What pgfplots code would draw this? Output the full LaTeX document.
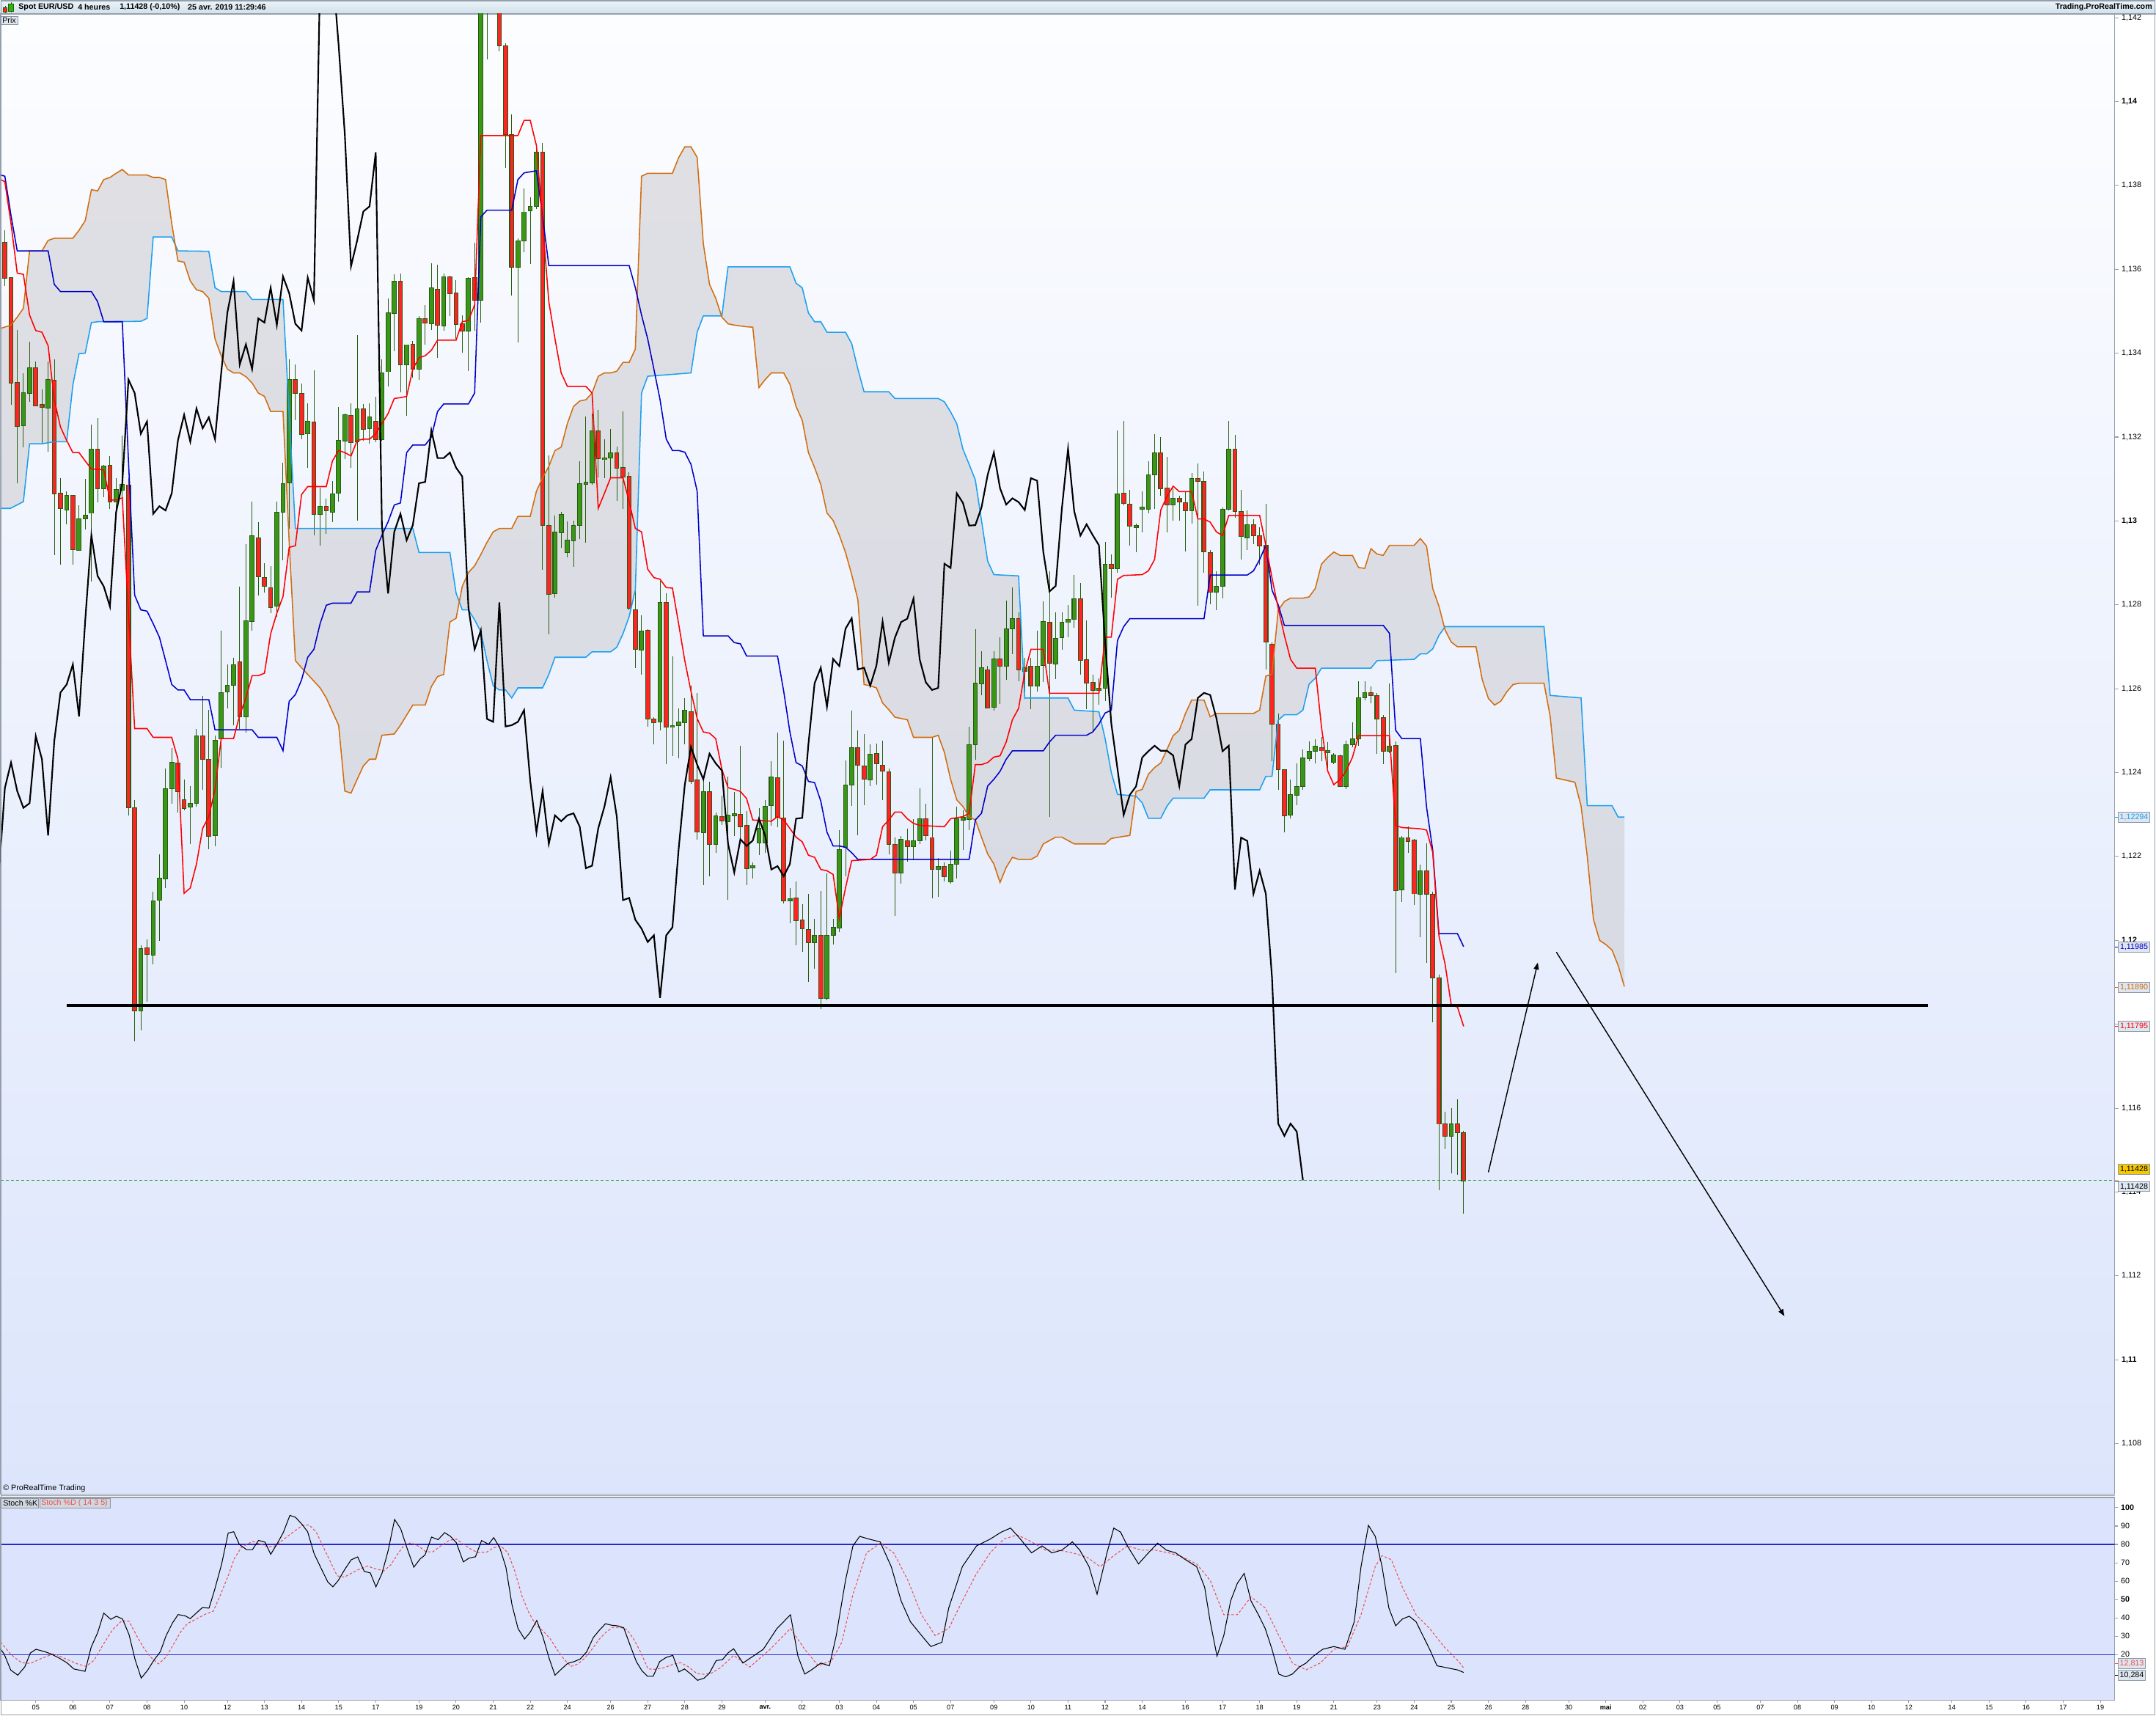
\documentclass[border=0pt]{standalone}
\usepackage{pgfplots}
\pgfplotsset{compat=1.18}
\usepackage{pgfplotstable}
\usetikzlibrary{arrows.meta}
\usepackage{fontspec}
\setmainfont{Liberation Sans}

\definecolor{cgreen}{RGB}{58,150,22}
\definecolor{cred}{RGB}{255,35,35}
\definecolor{cedge}{RGB}{40,90,15}
\definecolor{wick}{RGB}{40,95,15}
\definecolor{tenkan}{RGB}{255,0,0}
\definecolor{kijun}{RGB}{0,0,200}
\definecolor{spana}{RGB}{30,160,240}
\definecolor{spanb}{RGB}{210,110,15}
\definecolor{cloud}{RGB}{208,208,213}
\definecolor{axgray}{RGB}{150,160,172}
\definecolor{bgtop}{RGB}{252,253,255}
\definecolor{bgbot}{RGB}{220,229,251}
\definecolor{stochbg}{RGB}{219,228,252}
\definecolor{stochblue}{RGB}{40,40,200}
\definecolor{stochd}{RGB}{240,80,80}
\definecolor{lastgreen}{RGB}{30,160,50}
\definecolor{boxfill}{RGB}{222,230,240}
\definecolor{boxdraw}{RGB}{140,150,165}
\definecolor{hdrtop}{RGB}{236,244,249}
\definecolor{hdrbot}{RGB}{208,224,234}
\definecolor{ybox}{RGB}{245,200,0}

\newcommand{\fs}{\fontsize{3.05}{3.5}\selectfont}
\newcommand{\fd}{\fontsize{2.6}{3.0}\selectfont}

% EUR/USD 4h candles: bar index, open, high, low, close, up(1)/down(0)
\pgfplotstableread{
i o h l c u
0 1.13665 1.13693 1.13560 1.13580 0
1 1.13580 1.13580 1.13278 1.13329 0
2 1.13332 1.13455 1.13090 1.13227 0
3 1.13227 1.13353 1.13176 1.13305 1
4 1.13305 1.13429 1.13286 1.13365 1
5 1.13365 1.13381 1.13273 1.13276 0
6 1.13278 1.13316 1.13187 1.13271 0
7 1.13269 1.13381 1.13166 1.13337 1
8 1.13337 1.13386 1.12920 1.13066 0
9 1.13066 1.13103 1.12896 1.13030 0
10 1.13027 1.13071 1.12993 1.13061 1
11 1.13061 1.13061 1.12896 1.12932 0
12 1.12930 1.13038 1.12930 1.13004 1
13 1.13006 1.13101 1.12982 1.13014 1
14 1.13019 1.13232 1.12857 1.13172 1
15 1.13172 1.13247 1.13045 1.13077 0
16 1.13079 1.13135 1.13058 1.13132 1
17 1.13132 1.13156 1.13030 1.13046 0
18 1.13046 1.13103 1.13030 1.13074 1
19 1.13074 1.13203 1.13055 1.13087 1
20 1.13087 1.13103 1.12298 1.12317 0
21 1.12317 1.12335 1.11761 1.11834 0
22 1.11834 1.11988 1.11786 1.11981 1
23 1.11981 1.12004 1.11854 1.11967 0
24 1.11967 1.12117 1.11944 1.12096 1
25 1.12096 1.12206 1.11999 1.12148 1
26 1.12148 1.12411 1.12125 1.12363 1
27 1.12363 1.12460 1.12327 1.12424 1
28 1.12424 1.12440 1.12306 1.12356 0
29 1.12335 1.12384 1.12311 1.12316 0
30 1.12319 1.12368 1.12230 1.12327 1
31 1.12327 1.12505 1.12319 1.12487 1
32 1.12487 1.12584 1.12360 1.12432 0
33 1.12432 1.12550 1.12217 1.12250 0
34 1.12250 1.12489 1.12225 1.12476 1
35 1.12481 1.12739 1.12413 1.12591 1
36 1.12594 1.12658 1.12553 1.12610 1
37 1.12610 1.12675 1.12513 1.12658 1
38 1.12665 1.12844 1.12505 1.12534 0
39 1.12534 1.12945 1.12497 1.12762 1
40 1.12762 1.13046 1.12739 1.12966 1
41 1.12961 1.12998 1.12823 1.12869 0
42 1.12864 1.12901 1.12831 1.12844 0
43 1.12841 1.12893 1.12780 1.12796 0
44 1.12799 1.13046 1.12772 1.13021 1
45 1.13022 1.13139 1.12907 1.13090 1
46 1.13092 1.13386 1.12982 1.13337 1
47 1.13337 1.13373 1.13240 1.13305 0
48 1.13305 1.13329 1.13195 1.13208 0
49 1.13208 1.13281 1.13127 1.13237 1
50 1.13237 1.13360 1.12966 1.13017 0
51 1.13017 1.13079 1.12941 1.13035 1
52 1.13035 1.13055 1.12970 1.13025 0
53 1.13022 1.13095 1.12998 1.13066 1
54 1.13066 1.13273 1.13046 1.13192 1
55 1.13192 1.13256 1.13148 1.13253 1
56 1.13253 1.13281 1.13127 1.13189 0
57 1.13189 1.13444 1.13001 1.13268 1
58 1.13268 1.13279 1.13192 1.13221 0
59 1.13221 1.13281 1.13184 1.13247 1
60 1.13237 1.13297 1.13189 1.13195 0
61 1.13195 1.13386 1.13192 1.13353 1
62 1.13357 1.13531 1.13321 1.13497 1
63 1.13497 1.13588 1.13405 1.13572 1
64 1.13572 1.13591 1.13308 1.13373 0
65 1.13373 1.13421 1.13252 1.13421 1
66 1.13421 1.13429 1.13342 1.13362 0
67 1.13362 1.13489 1.13337 1.13483 1
68 1.13483 1.13515 1.13421 1.13473 0
69 1.13472 1.13615 1.13457 1.13556 1
70 1.13552 1.13612 1.13389 1.13467 0
71 1.13467 1.13591 1.13454 1.13583 1
72 1.13583 1.13585 1.13489 1.13543 0
73 1.13543 1.13575 1.13434 1.13470 0
74 1.13470 1.13491 1.13402 1.13454 0
75 1.13454 1.13581 1.13357 1.13580 1
76 1.13580 1.13664 1.13454 1.13526 0
77 1.13526 1.14350 1.13475 1.14300 1
78 1.14300 1.14460 1.14102 1.14380 1
79 1.14400 1.14480 1.14270 1.14320 0
80 1.14320 1.14360 1.14121 1.14134 0
81 1.14134 1.14139 1.13842 1.13922 0
82 1.13922 1.13971 1.13539 1.13607 0
83 1.13607 1.13674 1.13426 1.13669 1
84 1.13669 1.13793 1.13641 1.13738 1
85 1.13741 1.13774 1.13615 1.13750 1
86 1.13750 1.13884 1.13745 1.13879 1
87 1.13879 1.13903 1.12885 1.12990 0
88 1.12990 1.13156 1.12731 1.12827 0
89 1.12827 1.13014 1.12817 1.12974 1
90 1.12974 1.13022 1.12937 1.13017 1
91 1.12925 1.13001 1.12914 1.12954 1
92 1.12954 1.13001 1.12891 1.12990 1
93 1.12990 1.13143 1.12958 1.13090 1
94 1.13088 1.13250 1.12949 1.13093 1
95 1.13092 1.13256 1.13087 1.13216 1
96 1.13216 1.13265 1.13103 1.13150 0
97 1.13147 1.13195 1.13103 1.13150 1
98 1.13151 1.13221 1.13103 1.13163 1
99 1.13163 1.13179 1.13050 1.13127 0
100 1.13127 1.13261 1.13030 1.13106 0
101 1.13106 1.13116 1.12788 1.12793 0
102 1.12789 1.12833 1.12650 1.12694 0
103 1.12694 1.12775 1.12634 1.12739 1
104 1.12739 1.12743 1.12510 1.12528 0
105 1.12529 1.12532 1.12468 1.12521 0
106 1.12521 1.12857 1.12500 1.12806 1
107 1.12806 1.12828 1.12421 1.12510 0
108 1.12510 1.12678 1.12440 1.12513 1
109 1.12513 1.12553 1.12435 1.12521 1
110 1.12521 1.12578 1.12468 1.12549 1
111 1.12545 1.12607 1.12372 1.12380 0
112 1.12382 1.12591 1.12241 1.12258 0
113 1.12259 1.12384 1.12133 1.12356 1
114 1.12356 1.12379 1.12154 1.12230 0
115 1.12230 1.12306 1.12209 1.12298 1
116 1.12295 1.12346 1.12275 1.12284 0
117 1.12284 1.12392 1.12098 1.12298 1
118 1.12298 1.12355 1.12250 1.12303 1
119 1.12300 1.12465 1.12230 1.12271 0
120 1.12274 1.12308 1.12132 1.12172 0
121 1.12174 1.12187 1.12149 1.12178 1
122 1.12233 1.12316 1.12203 1.12267 1
123 1.12233 1.12335 1.12209 1.12319 1
124 1.12322 1.12429 1.12274 1.12389 1
125 1.12389 1.12497 1.12271 1.12295 0
126 1.12292 1.12477 1.12088 1.12096 0
127 1.12096 1.12125 1.12041 1.12101 1
128 1.12101 1.12141 1.11988 1.12049 0
129 1.12049 1.12085 1.11972 1.12028 0
130 1.12026 1.12112 1.11902 1.11996 0
131 1.11996 1.12052 1.11934 1.12012 1
132 1.12012 1.12117 1.11837 1.11863 0
133 1.11863 1.12161 1.11858 1.12012 1
134 1.12012 1.12052 1.11991 1.12031 1
135 1.12031 1.12263 1.12020 1.12217 1
136 1.12222 1.12429 1.12153 1.12371 1
137 1.12371 1.12549 1.12322 1.12461 1
138 1.12461 1.12500 1.12250 1.12419 0
139 1.12416 1.12492 1.12322 1.12384 0
140 1.12384 1.12468 1.12368 1.12445 1
141 1.12445 1.12470 1.12372 1.12422 0
142 1.12419 1.12476 1.12335 1.12405 0
143 1.12403 1.12411 1.12206 1.12230 0
144 1.12230 1.12246 1.12060 1.12162 0
145 1.12162 1.12250 1.12136 1.12241 1
146 1.12238 1.12267 1.12187 1.12225 0
147 1.12225 1.12290 1.12193 1.12238 1
148 1.12238 1.12364 1.12230 1.12290 1
149 1.12290 1.12327 1.12238 1.12250 0
150 1.12245 1.12484 1.12101 1.12169 0
151 1.12170 1.12198 1.12106 1.12177 1
152 1.12177 1.12187 1.12141 1.12153 0
153 1.12141 1.12214 1.12136 1.12182 1
154 1.12182 1.12319 1.12149 1.12290 1
155 1.12287 1.12311 1.12217 1.12292 1
156 1.12290 1.12510 1.12263 1.12468 1
157 1.12468 1.12743 1.12432 1.12613 1
158 1.12613 1.12691 1.12586 1.12650 1
159 1.12647 1.12655 1.12553 1.12557 0
160 1.12557 1.12691 1.12550 1.12671 1
161 1.12671 1.12723 1.12565 1.12654 0
162 1.12654 1.12810 1.12621 1.12743 1
163 1.12743 1.12843 1.12683 1.12768 1
164 1.12768 1.12783 1.12618 1.12646 0
165 1.12642 1.12675 1.12578 1.12650 1
166 1.12654 1.12675 1.12553 1.12607 0
167 1.12607 1.12739 1.12594 1.12655 1
168 1.12655 1.12809 1.12618 1.12760 1
169 1.12760 1.12880 1.12295 1.12662 0
170 1.12662 1.12783 1.12623 1.12722 1
171 1.12723 1.12783 1.12694 1.12759 1
172 1.12759 1.12799 1.12723 1.12767 1
173 1.12767 1.12872 1.12747 1.12815 1
174 1.12815 1.12852 1.12634 1.12670 0
175 1.12670 1.12764 1.12553 1.12615 0
176 1.12615 1.12634 1.12500 1.12597 0
177 1.12597 1.12626 1.12562 1.12602 1
178 1.12602 1.12949 1.12570 1.12898 1
179 1.12898 1.12920 1.12817 1.12888 0
180 1.12888 1.13216 1.12877 1.13066 1
181 1.13066 1.13240 1.13038 1.13043 0
182 1.13042 1.13075 1.12942 1.12989 0
183 1.12986 1.12994 1.12926 1.12990 1
184 1.13028 1.13071 1.12974 1.13032 1
185 1.13029 1.13142 1.13018 1.13110 1
186 1.13110 1.13207 1.13029 1.13163 1
187 1.13163 1.13201 1.13062 1.13078 0
188 1.13078 1.13155 1.12974 1.13039 0
189 1.13039 1.13078 1.13002 1.13054 1
190 1.13054 1.13062 1.13002 1.13045 0
191 1.13045 1.13071 1.12929 1.13026 0
192 1.13026 1.13115 1.12994 1.13102 1
193 1.13102 1.13139 1.12800 1.13096 0
194 1.13094 1.13118 1.12877 1.12926 0
195 1.12926 1.12932 1.12803 1.12832 0
196 1.12832 1.12881 1.12788 1.12845 1
197 1.12845 1.13034 1.12816 1.13029 1
198 1.13029 1.13239 1.13026 1.13172 1
199 1.13172 1.13207 1.13010 1.13023 0
200 1.13023 1.13075 1.12908 1.12965 0
201 1.12961 1.13026 1.12932 1.12992 1
202 1.12992 1.13005 1.12945 1.12966 0
203 1.12966 1.12986 1.12897 1.12942 0
204 1.12942 1.13042 1.12646 1.12711 0
205 1.12708 1.12711 1.12428 1.12517 0
206 1.12517 1.12541 1.12360 1.12409 0
207 1.12407 1.12407 1.12258 1.12299 0
208 1.12299 1.12383 1.12291 1.12347 1
209 1.12347 1.12423 1.12323 1.12367 1
210 1.12367 1.12455 1.12360 1.12436 1
211 1.12434 1.12476 1.12428 1.12451 1
212 1.12452 1.12480 1.12423 1.12464 1
213 1.12460 1.12485 1.12428 1.12452 0
214 1.12448 1.12472 1.12412 1.12452 1
215 1.12425 1.12447 1.12420 1.12441 1
216 1.12441 1.12444 1.12367 1.12368 0
217 1.12368 1.12476 1.12360 1.12467 1
218 1.12467 1.12520 1.12460 1.12480 1
219 1.12480 1.12619 1.12464 1.12578 1
220 1.12578 1.12617 1.12573 1.12590 1
221 1.12590 1.12606 1.12565 1.12585 0
222 1.12585 1.12590 1.12444 1.12530 0
223 1.12531 1.12538 1.12420 1.12451 0
224 1.12451 1.12614 1.12448 1.12464 1
225 1.12466 1.12476 1.11922 1.12121 0
226 1.12121 1.12250 1.12093 1.12245 1
227 1.12245 1.12274 1.12210 1.12237 0
228 1.12239 1.12242 1.12085 1.12111 0
229 1.12111 1.12181 1.12008 1.12166 1
230 1.12166 1.12231 1.11946 1.12111 0
231 1.12111 1.12117 1.11806 1.11911 0
232 1.11911 1.11919 1.11405 1.11563 0
233 1.11563 1.11591 1.11502 1.11534 0
234 1.11534 1.11600 1.11445 1.11563 1
235 1.11563 1.11623 1.11442 1.11544 0
236 1.11542 1.11547 1.11348 1.11428 0
}\candles

% Tenkan-sen
\pgfplotstableread{
i p
-0.7 1.13814
0 1.13809
1 1.13709
2 1.13591
3 1.13588
4 1.13491
5 1.13454
6 1.13450
7 1.13418
8 1.13289
9 1.13224
10 1.13192
11 1.13163
12 1.13163
13 1.13143
14 1.13124
16 1.13122
17 1.13050
18 1.13050
19 1.13055
20 1.12780
21 1.12505
23 1.12505
24 1.12484
27 1.12484
28 1.12432
29 1.12112
30 1.12125
31 1.12182
32 1.12267
33 1.12295
34 1.12360
35 1.12481
37 1.12481
38 1.12537
39 1.12578
40 1.12631
41 1.12631
42 1.12637
43 1.12731
44 1.12780
45 1.12820
46 1.12937
47 1.12941
48 1.13063
49 1.13082
52 1.13082
53 1.13143
54 1.13168
55 1.13163
56 1.13155
57 1.13192
58 1.13195
59 1.13195
60 1.13208
61 1.13232
62 1.13256
63 1.13292
64 1.13294
65 1.13297
66 1.13362
67 1.13389
68 1.13394
69 1.13407
70 1.13431
73 1.13431
74 1.13475
75 1.13478
76 1.13515
77 1.13919
83 1.13919
84 1.13955
85 1.13955
86 1.13895
87 1.13709
88 1.13523
89 1.13434
90 1.13353
91 1.13321
94 1.13321
95 1.13305
96 1.13030
97 1.13066
98 1.13103
100 1.13103
101 1.13046
102 1.12982
103 1.12974
104 1.12885
105 1.12865
106 1.12861
107 1.12841
108 1.12840
109 1.12755
110 1.12667
111 1.12594
112 1.12529
113 1.12497
114 1.12494
115 1.12481
116 1.12408
117 1.12364
118 1.12360
119 1.12355
120 1.12338
121 1.12287
124 1.12284
125 1.12295
126 1.12287
127 1.12267
128 1.12246
129 1.12235
130 1.12203
131 1.12198
132 1.12169
133 1.12166
134 1.12157
135 1.12052
136 1.12125
137 1.12190
140 1.12193
141 1.12203
142 1.12271
143 1.12287
144 1.12306
145 1.12306
146 1.12290
147 1.12279
148 1.12274
152 1.12271
153 1.12290
155 1.12295
156 1.12303
157 1.12419
158 1.12419
159 1.12424
160 1.12437
161 1.12440
162 1.12473
163 1.12526
164 1.12553
165 1.12639
166 1.12694
168 1.12694
169 1.12589
177 1.12589
178 1.12723
179 1.12723
180 1.12861
181 1.12870
184 1.12872
185 1.12881
186 1.12908
187 1.13026
188 1.13058
189 1.13083
190 1.13070
192 1.13070
193 1.13005
194 1.13005
195 1.12997
196 1.12974
197 1.12965
198 1.13013
203 1.13013
204 1.12942
205 1.12864
206 1.12792
207 1.12727
208 1.12670
209 1.12649
212 1.12649
213 1.12509
214 1.12404
215 1.12371
216 1.12384
217 1.12404
218 1.12436
219 1.12488
224 1.12488
225 1.12274
226 1.12269
229 1.12266
230 1.12263
231 1.12210
232 1.12011
233 1.11943
234 1.11846
235 1.11841
236 1.11795
}\tenkan

% Kijun-sen
\pgfplotstableread{
i p
-0.7 1.13825
0 1.13822
1 1.13728
2 1.13644
7 1.13644
8 1.13564
9 1.13547
14 1.13547
15 1.13523
16 1.13475
19 1.13475
20 1.13143
21 1.12823
22 1.12788
23 1.12785
24 1.12755
25 1.12723
26 1.12667
27 1.12610
28 1.12597
29 1.12597
30 1.12574
33 1.12574
34 1.12502
40 1.12502
41 1.12484
44 1.12484
45 1.12452
46 1.12570
47 1.12586
48 1.12621
49 1.12675
50 1.12694
51 1.12755
52 1.12799
53 1.12804
56 1.12804
57 1.12831
59 1.12831
60 1.12930
61 1.12966
62 1.12998
63 1.13038
64 1.13043
65 1.13163
66 1.13181
68 1.13181
69 1.13200
70 1.13261
71 1.13279
75 1.13279
76 1.13305
77 1.13725
78 1.13741
82 1.13741
83 1.13814
84 1.13830
86 1.13835
87 1.13725
88 1.13609
101 1.13609
102 1.13556
103 1.13491
104 1.13434
105 1.13362
106 1.13289
107 1.13195
108 1.13168
109 1.13168
110 1.13164
111 1.13135
112 1.13071
113 1.12726
117 1.12726
118 1.12710
119 1.12707
120 1.12678
125 1.12678
126 1.12594
127 1.12497
128 1.12424
129 1.12416
130 1.12379
131 1.12376
132 1.12332
133 1.12258
134 1.12225
135 1.12225
136 1.12222
137 1.12209
138 1.12193
156 1.12193
157 1.12287
158 1.12303
159 1.12368
160 1.12384
161 1.12403
162 1.12432
163 1.12452
168 1.12452
169 1.12473
170 1.12489
175 1.12489
176 1.12497
177 1.12516
178 1.12542
179 1.12549
180 1.12715
181 1.12748
182 1.12767
194 1.12767
195 1.12871
201 1.12871
202 1.12881
203 1.12908
204 1.12942
205 1.12835
206 1.12800
207 1.12751
223 1.12751
224 1.12732
225 1.12501
226 1.12481
229 1.12481
230 1.12318
231 1.12215
232 1.12016
235 1.12016
236 1.11985
}\kijun

% Senkou span A
\pgfplotstableread{
i p
-0.7 1.13030
0.9 1.13030
3 1.13046
4 1.13184
6 1.13184
8 1.13189
10 1.13189
11 1.13324
12 1.13399
13 1.13400
14 1.13473
15 1.13475
22 1.13476
23 1.13483
24 1.13677
27 1.13677
28 1.13644
33 1.13643
34 1.13556
35 1.13547
39 1.13547
40 1.13528
45 1.13528
46 1.13255
47 1.12982
66 1.12982
67 1.12925
72 1.12925
73 1.12828
74 1.12788
75 1.12788
76 1.12764
77 1.12736
78 1.12667
79 1.12607
80 1.12597
81 1.12597
82 1.12578
83 1.12602
87 1.12602
88 1.12634
89 1.12675
94 1.12675
95 1.12688
98 1.12688
99 1.12699
100 1.12731
101 1.12772
102 1.12836
103 1.13305
104 1.13345
111 1.13353
112 1.13450
113 1.13489
116 1.13489
117 1.13606
127 1.13606
128 1.13567
129 1.13556
130 1.13496
131 1.13475
132 1.13475
133 1.13450
136 1.13450
137 1.13423
138 1.13362
139 1.13308
143 1.13308
144 1.13292
151 1.13292
152 1.13284
153 1.13260
154 1.13232
155 1.13171
156 1.13135
157 1.13098
158 1.13001
159 1.12904
160 1.12872
164 1.12869
165 1.12578
172 1.12578
173 1.12549
177 1.12545
178 1.12481
179 1.12400
180 1.12348
183 1.12344
184 1.12328
185 1.12291
187 1.12291
188 1.12320
189 1.12339
194 1.12339
195 1.12359
203 1.12359
204 1.12391
205 1.12391
206 1.12525
207 1.12538
209 1.12538
210 1.12549
211 1.12611
212 1.12625
213 1.12649
221 1.12649
222 1.12667
228 1.12670
229 1.12683
230 1.12683
231 1.12695
232 1.12727
233 1.12748
249 1.12748
250 1.12584
255 1.12578
256 1.12321
260 1.12321
261 1.12294
262 1.12294
}\spanA

% Senkou span B
\pgfplotstableread{
i p
-0.7 1.13459
1 1.13467
2 1.13486
3 1.13507
4 1.13644
6 1.13644
7 1.13669
8 1.13674
11 1.13674
12 1.13693
13 1.13716
14 1.13790
15 1.13787
16 1.13814
17 1.13819
18 1.13829
19 1.13838
20 1.13825
23 1.13825
24 1.13819
25 1.13819
26 1.13814
27 1.13709
28 1.13620
29 1.13617
30 1.13572
31 1.13551
32 1.13547
33 1.13531
34 1.13434
35 1.13394
36 1.13362
37 1.13353
38 1.13353
39 1.13344
40 1.13329
41 1.13305
42 1.13297
43 1.13261
45 1.13261
46 1.12949
47 1.12667
48 1.12650
49 1.12634
50 1.12618
51 1.12602
52 1.12578
53 1.12545
54 1.12513
55 1.12356
56 1.12351
57 1.12384
58 1.12416
59 1.12432
60 1.12432
61 1.12489
63 1.12492
64 1.12513
65 1.12537
66 1.12561
68 1.12561
69 1.12605
70 1.12629
71 1.12634
72 1.12759
73 1.12768
74 1.12844
75 1.12877
76 1.12893
77 1.12920
78 1.12949
79 1.12974
80 1.12982
82 1.12982
83 1.13011
85 1.13011
86 1.13071
87 1.13103
88 1.13130
89 1.13168
90 1.13176
91 1.13232
92 1.13273
93 1.13286
94 1.13289
95 1.13305
96 1.13345
97 1.13353
98 1.13353
99 1.13357
100 1.13378
101 1.13378
102 1.13410
103 1.13822
104 1.13829
108 1.13829
109 1.13866
110 1.13892
111 1.13892
112 1.13867
113 1.13661
114 1.13564
115 1.13531
116 1.13486
117 1.13470
118 1.13467
120 1.13463
121 1.13462
122 1.13318
123 1.13337
124 1.13353
126 1.13353
127 1.13326
128 1.13273
129 1.13240
130 1.13163
131 1.13127
132 1.13087
133 1.13019
134 1.13001
135 1.12966
136 1.12925
137 1.12872
138 1.12812
139 1.12610
140 1.12607
141 1.12602
142 1.12566
143 1.12550
144 1.12532
145 1.12529
146 1.12526
147 1.12484
150 1.12484
151 1.12489
152 1.12448
153 1.12384
154 1.12335
155 1.12319
156 1.12295
157 1.12287
158 1.12246
159 1.12206
160 1.12182
161 1.12138
162 1.12174
163 1.12198
164 1.12193
166 1.12193
167 1.12201
168 1.12230
169 1.12238
170 1.12246
171 1.12246
172 1.12238
173 1.12230
178 1.12230
179 1.12243
181 1.12248
182 1.12250
183 1.12355
184 1.12360
185 1.12396
186 1.12412
187 1.12423
188 1.12455
189 1.12488
190 1.12501
191 1.12541
192 1.12573
194 1.12573
195 1.12533
196 1.12541
202 1.12541
203 1.12549
204 1.12630
205 1.12635
206 1.12787
207 1.12808
208 1.12816
210 1.12816
211 1.12819
212 1.12839
213 1.12897
214 1.12913
215 1.12926
216 1.12918
218 1.12918
219 1.12889
220 1.12887
221 1.12934
222 1.12921
223 1.12918
224 1.12942
228 1.12942
229 1.12958
230 1.12940
231 1.12839
232 1.12797
233 1.12740
234 1.12711
235 1.12700
238 1.12700
239 1.12622
240 1.12577
241 1.12561
242 1.12570
243 1.12593
244 1.12610
245 1.12613
249 1.12613
250 1.12534
251 1.12387
254 1.12377
255 1.12320
256 1.12200
257 1.12050
258 1.12000
259 1.11990
260 1.11977
261 1.11940
262 1.11890
}\spanB

% cloud outline: span A forward, span B backward
\pgfplotstablesort[sort key=i, sort cmp={float <}]{\cloudpoly}{\spanA}
\pgfplotstablesort[sort key=i, sort cmp={float >}]{\spanBrev}{\spanB}
\pgfplotstablevertcat{\cloudpoly}{\spanBrev}

% Stochastic %K and %D (14 3 5)
\pgfplotstableread{
i v
-0.71 23.2
-0.10 20.2
0.95 11.6
2.09 8.8
3.22 13.3
4.13 20.9
5.04 22.9
6.47 21.6
7.38 20.5
8.74 18.2
10.03 15.6
11.16 12.2
12.98 10.9
13.96 24.0
15.02 32.0
16.00 42.6
17.14 39.2
18.05 40.9
19.03 39.4
20.09 30.9
21.07 17.3
22.06 7.2
23.12 11.6
24.10 16.9
25.16 21.6
26.07 30.2
27.13 37.3
28.03 41.8
29.17 41.1
30.00 39.6
31.06 42.9
31.96 45.6
33.03 45.3
33.93 55.2
35.07 69.3
36.13 86.2
37.03 86.9
37.94 80.0
39.08 77.2
40.06 77.2
41.04 82.2
42.10 81.2
43.01 74.6
44.14 80.9
45.05 86.5
46.11 95.8
47.02 94.8
48.15 90.6
48.98 86.9
50.04 74.9
51.18 66.9
52.24 59.6
53.07 56.9
53.90 60.2
54.96 66.2
56.02 71.6
57.08 73.2
58.14 65.3
59.12 64.5
60.03 56.9
61.01 64.2
62.00 76.5
63.05 93.6
64.04 88.5
65.10 77.6
66.16 67.6
67.21 72.2
67.97 74.2
69.03 84.0
70.09 82.6
71.15 86.4
72.06 84.5
73.04 80.9
74.17 70.5
75.08 72.5
76.14 73.3
77.12 82.1
78.26 80.1
79.09 83.7
80.07 78.2
81.06 67.6
82.04 47.2
83.02 34.2
84.08 28.5
84.99 32.2
86.05 38.6
87.03 29.8
88.09 17.6
89.00 8.8
90.06 12.2
91.04 15.2
92.10 16.2
93.08 17.6
94.14 21.6
95.20 29.3
96.26 33.6
97.17 36.8
98.15 36.0
99.13 35.7
100.12 34.6
101.10 25.6
102.16 16.2
103.07 11.2
103.98 8.2
104.88 8.2
105.94 16.2
107.00 18.5
108.06 19.6
109.04 10.6
109.95 12.2
111.01 9.3
112.07 6.0
113.13 7.2
113.96 9.8
115.09 16.8
116.08 17.2
116.99 20.9
117.90 23.2
119.4 15.4
122.7 22.9
124.9 34.2
127.1 41.7
128.3 19.2
129.4 9.4
130.5 11.7
132.0 15.4
133.4 13.9
134.5 30.4
136.0 60.4
137.2 79.2
138.3 84.4
139.8 82.9
141.6 81.4
143.4 67.9
145.0 49.2
146.5 37.9
148.3 30.4
149.8 24.4
151.6 26.7
152.7 45.4
154.9 67.9
157.2 79.2
159.4 82.9
161.2 86.7
162.7 88.9
164.3 82.9
166.1 75.4
167.8 79.2
169.4 75.4
171.0 76.9
172.7 81.4
173.9 76.9
175.4 67.9
176.7 52.9
178.3 75.4
179.4 88.9
180.5 86.7
181.6 79.2
183.4 69.4
185.0 75.4
186.5 80.7
187.9 76.9
189.4 75.4
191.0 71.7
192.8 67.9
194.1 56.7
195.0 37.9
196.1 19.2
197.2 30.4
198.3 49.2
199.4 58.9
200.5 64.2
201.6 49.2
202.8 41.7
203.9 34.2
205.0 22.9
206.1 9.4
207.2 7.9
208.3 9.4
209.4 13.2
210.5 15.4
211.7 19.2
213.2 22.9
215.0 24.4
216.8 22.9
218.3 37.9
219.4 67.9
220.6 90.4
221.7 84.4
222.8 67.9
223.9 45.4
225.0 35.7
226.1 39.4
227.2 40.9
228.3 37.9
229.4 30.4
230.5 22.9
231.7 13.9
232.8 13.2
233.9 12.4
235.0 11.7
236.0 10.3
}\stochK

\pgfplotstableread{
i v
-0.71 26.9
0.95 20.2
2.69 15.6
4.13 15.2
6.10 18.2
7.99 20.5
9.88 17.6
11.77 14.9
13.13 13.6
14.42 16.9
15.93 25.6
17.44 33.6
18.95 38.5
20.09 38.2
21.22 30.9
22.36 24.2
23.49 18.9
24.86 14.9
26.14 18.9
27.28 25.6
28.41 32.2
29.54 36.9
31.06 39.6
32.57 42.2
33.71 43.6
34.84 52.2
36.13 62.9
37.11 72.2
38.24 78.2
39.23 80.2
40.13 81.6
41.27 80.2
42.40 78.9
43.54 78.9
44.67 81.6
46.19 85.6
48.08 90.2
49.21 90.6
50.35 86.9
51.48 78.9
52.62 70.9
53.75 62.9
54.89 62.2
56.02 64.2
57.15 66.2
58.67 68.2
59.80 66.9
61.31 65.6
62.45 68.9
63.58 74.9
64.72 80.2
65.85 80.9
66.99 78.9
68.12 76.0
69.26 76.0
70.39 78.9
71.90 82.2
73.04 82.9
74.17 80.2
75.31 77.6
76.44 75.6
77.95 75.8
79.09 78.2
80.22 79.2
81.36 75.6
82.49 65.6
83.63 52.2
84.76 42.9
85.90 36.2
87.03 32.9
88.17 28.9
89.30 22.9
90.44 17.6
91.57 13.6
92.71 14.9
93.84 18.2
94.97 22.9
96.11 28.2
97.24 32.2
98.38 34.9
99.51 34.9
100.65 33.6
101.78 28.2
102.92 20.9
104.05 12.2
105.19 12.0
106.70 12.9
108.21 14.9
109.35 15.6
110.48 13.6
111.99 9.6
113.13 9.3
114.26 9.8
115.78 12.9
117.29 17.6
117.90 19.6
120.5 13.2
123.8 22.9
127.1 34.2
129.4 22.9
131.6 13.9
133.8 16.9
135.4 26.7
137.2 52.9
139.4 75.4
141.6 80.7
143.8 75.4
146.1 60.4
148.3 41.7
150.5 30.4
152.7 34.2
154.9 49.2
157.2 64.2
159.4 75.4
161.6 82.9
163.8 85.2
166.1 81.4
168.3 76.9
170.5 76.9
172.7 75.4
175.0 73.2
177.2 67.9
179.4 73.9
181.6 79.2
183.9 76.9
186.1 76.9
188.3 75.4
190.5 73.2
192.8 69.4
195.0 60.4
197.2 41.7
199.4 41.7
201.6 51.4
203.9 45.4
206.1 30.4
208.3 15.4
210.5 11.7
212.8 15.4
215.0 22.9
217.2 24.4
219.4 41.7
221.7 67.9
222.8 73.9
224.3 71.7
226.1 56.7
228.3 41.7
230.5 34.2
232.8 24.4
235.0 17.0
236.0 12.8
}\stochD

\begin{document}
\begin{tikzpicture}
\fill[white] (0,0) rectangle (29.4,23.4);

% header bar
\shade[top color=hdrtop, bottom color=hdrbot] (0,23.21) rectangle (29.4,23.4);
\draw[axgray, line width=0.3pt] (0,23.21) -- (29.4,23.21);
\draw[wick, line width=0.2pt] (0.065,23.22) -- (0.065,23.32);
\fill[cred, draw=cedge, line width=0.15pt] (0.04,23.24) rectangle (0.09,23.30);
\draw[wick, line width=0.2pt] (0.145,23.23) -- (0.145,23.37);
\fill[cgreen!70!green, draw=cedge, line width=0.15pt] (0.11,23.25) rectangle (0.18,23.35);
\node[anchor=west, inner sep=0pt, font=\fs\bfseries] at (0.24,23.305) {Spot EUR/USD};
\node[anchor=west, inner sep=0pt, font=\fs\bfseries] at (1.05,23.305) {4 heures};
\node[anchor=west, inner sep=0pt, font=\fs\bfseries] at (1.62,23.305) {1,11428 (-0,10\%)};
\node[anchor=west, inner sep=0pt, font=\fs\bfseries] at (2.55,23.305) {25 avr. 2019 11:29:46};
\node[anchor=east, inner sep=0pt, font=\fs\bfseries] at (29.36,23.305) {Trading.ProRealTime.com};

% main price panel
\begin{axis}[
  at={(0cm,3.02cm)}, anchor=south west, scale only axis,
  width=28.84cm, height=20.19cm,
  xmin=-0.712, xmax=341.31, ymin=1.10680, ymax=1.14209,
  xtick=\empty,
  ytick={1.108,1.11,1.112,1.114,1.116,1.118,1.12,1.122,1.124,1.126,1.128,1.13,1.132,1.134,1.136,1.138,1.14,1.142},
  yticklabels={{1,108},{\textbf{1,11}},{1,112},{1,114},{1,116},{},{\textbf{1,12}},{1,122},{1,124},{1,126},{1,128},{\textbf{1,13}},{1,132},{1,134},{1,136},{1,138},{\textbf{1,14}},{1,142}},
  ytick pos=right, yticklabel pos=right,
  tick align=outside, major tick length=0.05cm,
  tick style={draw=axgray, line width=0.3pt},
  yticklabel style={font=\fs, anchor=west, inner sep=0pt, xshift=0.04cm},
  /pgf/number format/assume math mode=true,
  axis line style={draw=axgray, line width=0.35pt},
  axis background/.style={top color=bgtop, bottom color=bgbot},
]
% cloud between the two senkou spans
\addplot[fill=cloud, fill opacity=0.62, draw=none, forget plot] table[x=i, y=p] {\cloudpoly};

% candles: wicks, body outline, bodies (the other colour is pushed above the clipped area)
\addplot[draw=none, mark=none, forget plot,
  error bars/.cd, y dir=both, y explicit, error mark=none,
  error bar style={draw=wick, line width=0.26pt}]
  table[x=i, y expr={(\thisrow{h}+\thisrow{l})/2}, y error expr={(\thisrow{h}-\thisrow{l})/2}] {\candles};
\addplot[draw=none, mark=none, forget plot,
  error bars/.cd, y dir=both, y explicit, error mark=none,
  error bar style={draw=cedge, line width=0.068cm}]
  table[x=i, y expr={(\thisrow{o}+\thisrow{c})/2}, y error expr={abs(\thisrow{c}-\thisrow{o})/2+0.000012}] {\candles};
\addplot[draw=none, mark=none, forget plot,
  error bars/.cd, y dir=both, y explicit, error mark=none,
  error bar style={draw=cgreen, line width=0.046cm}]
  table[x=i, y expr={(\thisrow{o}+\thisrow{c})/2+(1-\thisrow{u})*0.05}, y error expr={max(abs(\thisrow{c}-\thisrow{o})/2-0.000005,0.000002)}] {\candles};
\addplot[draw=none, mark=none, forget plot,
  error bars/.cd, y dir=both, y explicit, error mark=none,
  error bar style={draw=cred, line width=0.046cm}]
  table[x=i, y expr={(\thisrow{o}+\thisrow{c})/2+\thisrow{u}*0.05}, y error expr={max(abs(\thisrow{c}-\thisrow{o})/2-0.000005,0.000002)}] {\candles};

% last price
\addplot[lastgreen, line width=0.3pt, dash pattern=on 0.04cm off 0.03cm, forget plot]
  coordinates {(-0.712,1.11428) (341.31,1.11428)};

% ichimoku lines
\addplot[spana, line width=0.44pt, forget plot] table[x=i, y=p] {\spanA};
\addplot[spanb, line width=0.44pt, forget plot] table[x=i, y=p] {\spanB};
\addplot[kijun, line width=0.44pt, forget plot] table[x=i, y=p] {\kijun};
\addplot[tenkan, line width=0.44pt, forget plot] table[x=i, y=p] {\tenkan};
\addplot[black, line width=0.6pt, forget plot] table[x expr={\thisrow{i}-26}, y=c] {\candles};

% support line and projected arrows
\addplot[black, line width=0.95pt, forget plot] coordinates {(9.96,1.11845) (311.1,1.11845)};
\addplot[black, line width=0.4pt, -{Triangle[length=0.095cm, width=0.07cm]}, forget plot]
  coordinates {(240.0,1.11447) (248.0,1.11947)};
\addplot[black, line width=0.4pt, -{Triangle[length=0.095cm, width=0.07cm]}, forget plot]
  coordinates {(251.0,1.11972) (287.9,1.11104)};
\end{axis}

% stochastic panel
\begin{axis}[
  at={(0cm,0.207cm)}, anchor=south west, scale only axis,
  width=28.84cm, height=2.766cm,
  xmin=-0.712, xmax=341.31, ymin=-4.8, ymax=105.6,
  ytick={20,30,40,50,60,70,80,90,100},
  yticklabels={20,30,40,{\textbf{50}},60,70,80,90,{\textbf{100}}},
  ytick pos=right, yticklabel pos=right,
  xtick={5,11,17,23,29,36,42,48,54,60,67,73,79,85,91,98,104,110,116,123,129,135,141,147,153,160,166,172,178,184,191,197,203,209,215,222,228,234,240,246,253,259,265,271,277,284,290,296,302,308,315,321,327,333,339},
  xticklabels={05,06,07,08,10,12,13,14,15,17,19,20,21,22,24,26,27,28,29,{\textbf{avr.}},02,03,04,05,07,09,10,11,12,14,16,17,18,19,21,23,24,25,26,28,30,{\textbf{mai}},02,03,05,07,08,09,10,12,14,15,16,17,19},
  xtick pos=bottom,
  tick align=outside, major tick length=0.04cm,
  tick style={draw=axgray, line width=0.3pt},
  yticklabel style={font=\fs, anchor=west, inner sep=0pt, xshift=0.04cm},
  xticklabel style={font=\fd, anchor=north, inner sep=0pt, yshift=-0.02cm},
  /pgf/number format/assume math mode=true,
  axis line style={draw=axgray, line width=0.35pt},
  axis background/.style={fill=stochbg},
]
\addplot[stochblue, line width=0.3pt, forget plot] coordinates {(-0.712,80) (341.31,80)};
\addplot[stochblue, line width=0.3pt, forget plot] coordinates {(-0.712,20) (341.31,20)};
\addplot[stochd, line width=0.3pt, dash pattern=on 0.035cm off 0.025cm, forget plot] table[x=i, y=v] {\stochD};
\addplot[black, line width=0.3pt, forget plot] table[x=i, y=v] {\stochK};
\end{axis}

% panel separators and labels
\draw[axgray, line width=0.3pt] (0,2.993) -- (28.84,2.993);
\node[anchor=south west, inner sep=0pt, font=\fs] at (0.03,3.04) {© ProRealTime Trading};
\fill[boxfill, draw=boxdraw, line width=0.2pt] (0,23.173) rectangle (0.24,23.067);
\node[anchor=west, inner sep=0pt, font=\fs] at (0.02,23.12) {Prix};
\fill[boxfill!85!gray, draw=boxdraw, line width=0.2pt] (0,2.96) rectangle (0.52,2.83);
\node[anchor=west, inner sep=0pt, font=\fs] at (0.03,2.895) {Stoch \%K};
\fill[boxfill!85!gray, draw=boxdraw, line width=0.2pt] (0.54,2.96) rectangle (1.50,2.83);
\node[anchor=west, inner sep=0pt, font=\fs, text=stochd] at (0.55,2.895) {Stoch \%D ( 14 3 5)};

% last-value boxes on the price scale
\foreach \yy/\col in {12.25/spana, 10.483/kijun, 9.932/spanb, 9.40/tenkan}{
  \draw[\col, line width=0.3pt] (28.84,\yy) -- (28.89,\yy);
  \fill[boxfill, draw=boxdraw, line width=0.2pt] (28.89,\yy-0.0675) rectangle (29.32,\yy+0.0675);
}
\node[font=\fs, text=spana, inner sep=0pt] at (29.105,12.25) {1,12294};
\node[font=\fs, text=kijun, inner sep=0pt] at (29.105,10.483) {1,11985};
\node[font=\fs, text=spanb, inner sep=0pt] at (29.105,9.932) {1,11890};
\node[font=\fs, text=tenkan, inner sep=0pt] at (29.105,9.40) {1,11795};
\fill[ybox, draw=boxdraw, line width=0.2pt] (28.89,7.3845) rectangle (29.32,7.5195);
\node[font=\fs, inner sep=0pt] at (29.105,7.452) {1,11428};
\draw[black, line width=0.3pt] (28.84,7.286) -- (28.89,7.286);
\fill[boxfill, draw=boxdraw, line width=0.2pt] (28.89,7.1455) rectangle (29.32,7.2805);
\node[font=\fs, inner sep=0pt] at (29.105,7.213) {1,11428};
\draw[stochd, line width=0.3pt] (28.84,0.707) -- (28.89,0.707);
\fill[boxfill, draw=boxdraw, line width=0.2pt] (28.89,0.6405) rectangle (29.26,0.7735);
\node[font=\fs, text=stochd, inner sep=0pt] at (29.075,0.707) {12,813};
\draw[black, line width=0.3pt] (28.84,0.547) -- (28.89,0.547);
\fill[boxfill, draw=boxdraw, line width=0.2pt] (28.89,0.4805) rectangle (29.26,0.6135);
\node[font=\fs, inner sep=0pt] at (29.075,0.547) {10,284};

\draw[axgray, line width=0.3pt] (0.01,0.01) rectangle (29.39,23.39);
\end{tikzpicture}
\end{document}
